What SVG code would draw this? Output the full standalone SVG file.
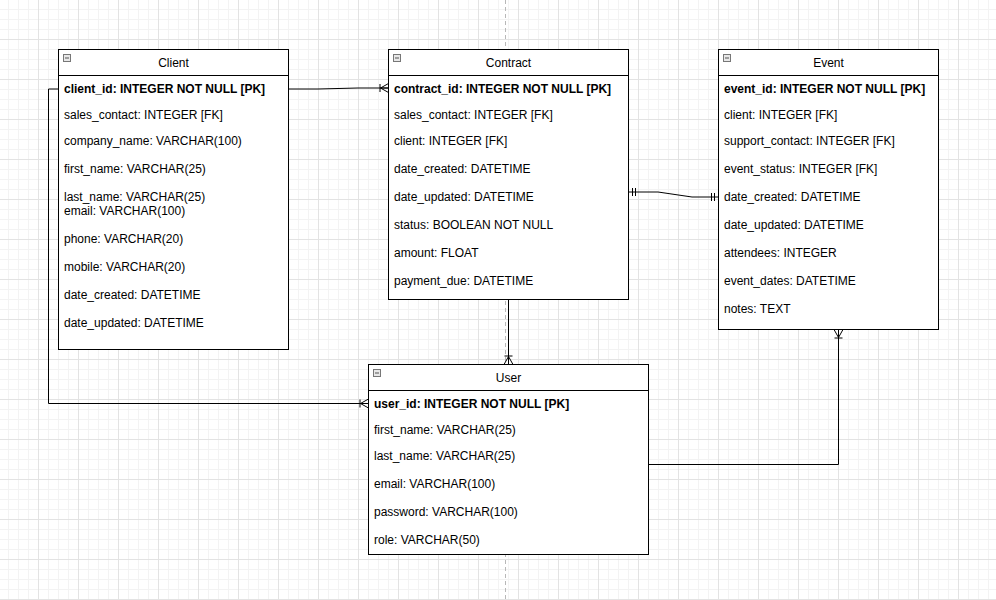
<svg xmlns="http://www.w3.org/2000/svg" width="996" height="600" viewBox="0 0 996 600">
<style>
.box{fill:#fff;stroke:#000;stroke-width:1}
.sep{stroke:#000;stroke-width:1}
.t{font-family:"Liberation Sans",Arial,sans-serif;font-size:12px;fill:#000}
.title{text-anchor:middle}
.pk{font-weight:bold}
.ico{fill:#e8e8e8;stroke:#777;stroke-width:1}
.icoline{stroke:#555;stroke-width:1}
.conn{fill:none;stroke:#000;stroke-width:1}
</style>
<defs>
<pattern id="grid" x="38" y="39" width="40" height="40" patternUnits="userSpaceOnUse">
<path d="M10.5,0V40M20.5,0V40M30.5,0V40M0,10.5H40M0,20.5H40M0,30.5H40" stroke="#f3f3f3" stroke-width="1" fill="none"/>
<path d="M0.5,0V40M0,0.5H40" stroke="#e3e3e3" stroke-width="1" fill="none"/>
</pattern>
<marker id="oneMany" markerUnits="userSpaceOnUse" markerWidth="20" markerHeight="20" viewBox="0 0 20 20" refX="20" refY="10" orient="auto" overflow="visible">
<path d="M12,10L20,5.5M12,10L20,14.5M12,10L20,10M11.5,6V14" fill="none" stroke="#000" stroke-width="1"/>
</marker>
<marker id="mandOne" markerUnits="userSpaceOnUse" markerWidth="20" markerHeight="20" viewBox="0 0 20 20" refX="20" refY="10" orient="auto-start-reverse" overflow="visible">
<path d="M16,6V14M13,6V14" fill="none" stroke="#000" stroke-width="1"/>
</marker>
</defs>
<rect width="996" height="600" fill="#fff"/>
<rect width="996" height="600" fill="url(#grid)"/>
<line x1="505.5" y1="0" x2="505.5" y2="600" stroke="#b8b8b8" stroke-width="1" stroke-dasharray="4 3"/>

<g id="connectors">
<path class="conn" d="M288.5,89 L318,89 L358,88 L388.5,88" marker-end="url(#oneMany)"/>
<path class="conn" d="M628.5,192 L658,192 L692,197 L718.5,197" marker-start="url(#mandOne)" marker-end="url(#mandOne)"/>
<path class="conn" d="M508.5,299.5 L508.5,364.5" marker-end="url(#oneMany)"/>
<path class="conn" d="M58.5,89 L48.5,89 L48.5,403.5 L368.5,403.5" marker-end="url(#oneMany)"/>
<path class="conn" d="M648.5,464.5 L838.5,464.5 L838.5,329.5" marker-end="url(#oneMany)"/>
</g>

<g id="client">
<rect class="box" x="58.5" y="49.5" width="230" height="300"/>
<line class="sep" x1="58.5" y1="75.5" x2="288.5" y2="75.5"/>
<rect class="ico" x="63.5" y="54.5" width="7" height="7"/>
<line class="icoline" x1="65" y1="58" x2="69" y2="58"/>
<text class="t title" x="173.5" y="67">Client</text>
<text class="t pk" x="64" y="93">client_id: INTEGER NOT NULL [PK]</text>
<text class="t" x="64" y="119">sales_contact: INTEGER [FK]</text>
<text class="t" x="64" y="145">company_name: VARCHAR(100)</text>
<text class="t" x="64" y="173">first_name: VARCHAR(25)</text>
<text class="t" x="64" y="201">last_name: VARCHAR(25)</text>
<text class="t" x="64" y="215">email: VARCHAR(100)</text>
<text class="t" x="64" y="243">phone: VARCHAR(20)</text>
<text class="t" x="64" y="271">mobile: VARCHAR(20)</text>
<text class="t" x="64" y="299">date_created: DATETIME</text>
<text class="t" x="64" y="327">date_updated: DATETIME</text>
</g>

<g id="contract">
<rect class="box" x="388.5" y="49.5" width="240" height="250"/>
<line class="sep" x1="388.5" y1="75.5" x2="628.5" y2="75.5"/>
<rect class="ico" x="393.5" y="54.5" width="7" height="7"/>
<line class="icoline" x1="395" y1="58" x2="399" y2="58"/>
<text class="t title" x="508.5" y="67">Contract</text>
<text class="t pk" x="394" y="93">contract_id: INTEGER NOT NULL [PK]</text>
<text class="t" x="394" y="119">sales_contact: INTEGER [FK]</text>
<text class="t" x="394" y="145">client: INTEGER [FK]</text>
<text class="t" x="394" y="173">date_created: DATETIME</text>
<text class="t" x="394" y="201">date_updated: DATETIME</text>
<text class="t" x="394" y="229">status: BOOLEAN NOT NULL</text>
<text class="t" x="394" y="257">amount: FLOAT</text>
<text class="t" x="394" y="285">payment_due: DATETIME</text>
</g>

<g id="event">
<rect class="box" x="718.5" y="49.5" width="220" height="280"/>
<line class="sep" x1="718.5" y1="75.5" x2="938.5" y2="75.5"/>
<rect class="ico" x="723.5" y="54.5" width="7" height="7"/>
<line class="icoline" x1="725" y1="58" x2="729" y2="58"/>
<text class="t title" x="828.5" y="67">Event</text>
<text class="t pk" x="724" y="93">event_id: INTEGER NOT NULL [PK]</text>
<text class="t" x="724" y="119">client: INTEGER [FK]</text>
<text class="t" x="724" y="145">support_contact: INTEGER [FK]</text>
<text class="t" x="724" y="173">event_status: INTEGER [FK]</text>
<text class="t" x="724" y="201">date_created: DATETIME</text>
<text class="t" x="724" y="229">date_updated: DATETIME</text>
<text class="t" x="724" y="257">attendees: INTEGER</text>
<text class="t" x="724" y="285">event_dates: DATETIME</text>
<text class="t" x="724" y="313">notes: TEXT</text>
</g>

<g id="user">
<rect class="box" x="368.5" y="364.5" width="280" height="190"/>
<line class="sep" x1="368.5" y1="390.5" x2="648.5" y2="390.5"/>
<rect class="ico" x="373.5" y="369.5" width="7" height="7"/>
<line class="icoline" x1="375" y1="373" x2="379" y2="373"/>
<text class="t title" x="508.5" y="382">User</text>
<text class="t pk" x="374" y="408">user_id: INTEGER NOT NULL [PK]</text>
<text class="t" x="374" y="434">first_name: VARCHAR(25)</text>
<text class="t" x="374" y="460">last_name: VARCHAR(25)</text>
<text class="t" x="374" y="488">email: VARCHAR(100)</text>
<text class="t" x="374" y="516">password: VARCHAR(100)</text>
<text class="t" x="374" y="544">role: VARCHAR(50)</text>
</g>
</svg>
